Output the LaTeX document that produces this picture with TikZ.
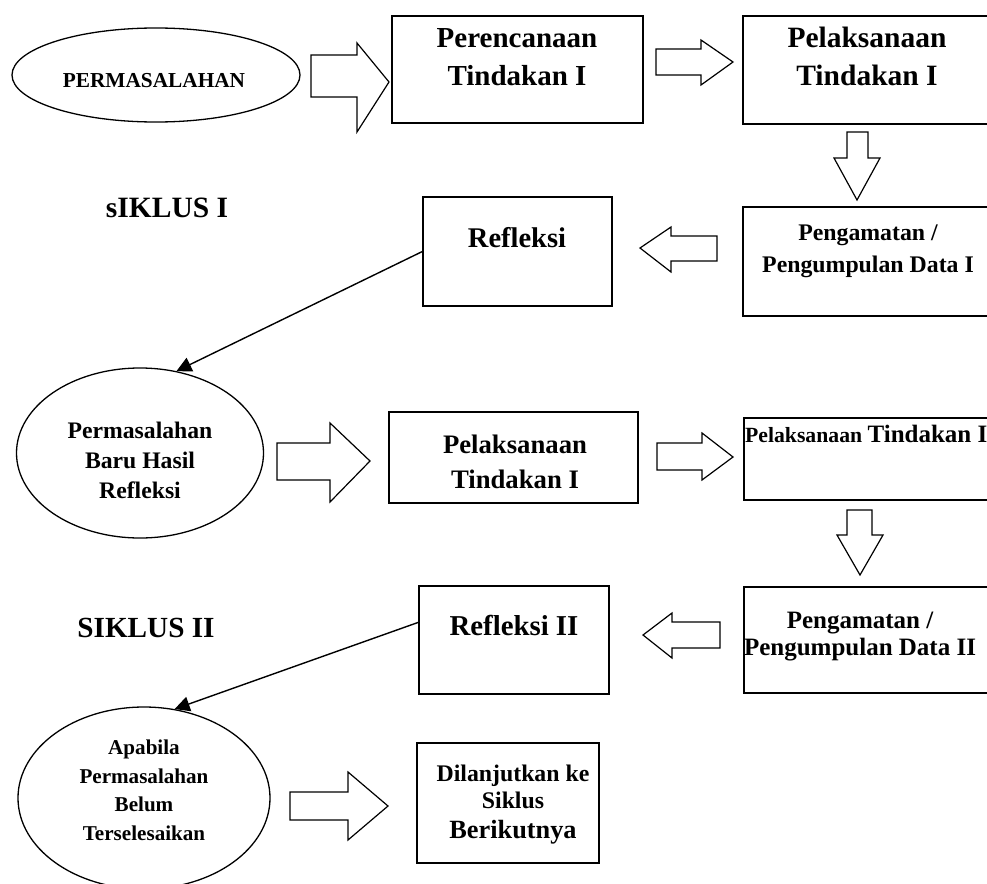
\documentclass[tikz,border=0pt]{standalone}
\usepackage{fontspec}
\setmainfont{Liberation Serif}
\usetikzlibrary{shapes.geometric,arrows.meta}
\newcommand\fsz[2]{\fontsize{#1pt}{#2pt}\selectfont}
\begin{document}
\begin{tikzpicture}[x=1pt,y=-1pt,
  box/.style={draw,line width=1.3pt,inner sep=0pt},
  oval/.style={draw,ellipse,line width=1.3pt,inner sep=0pt},
  txt/.style={inner sep=0pt,align=center,anchor=base},
  blk/.style={draw,line width=1.2pt,fill=white,line join=miter},
  conn/.style={line width=1.4pt,-{Triangle[length=15pt,width=15pt]}}]
\useasboundingbox (0,0) rectangle (987,883);
\clip (0,0) rectangle (987,883);
% ellipses
\node[oval,minimum width=288pt,minimum height=94pt] (E1) at (156,75) {};
\node[oval,minimum width=247pt,minimum height=170pt] (E2) at (140,453) {};
\node[oval,minimum width=252pt,minimum height=182pt] (E3) at (144,798) {};
% boxes
\node[box,minimum width=251pt,minimum height=107pt] (B1) at (517.5,69.5) {};
\node[box,minimum width=257pt,minimum height=108pt] (B2) at (871.5,70) {};
\node[box,minimum width=257pt,minimum height=109pt] (B3) at (871.5,261.5) {};
\node[box,minimum width=189pt,minimum height=109pt] (B4) at (517.5,251.5) {};
\node[box,minimum width=249pt,minimum height=91pt] (B5) at (513.5,457.5) {};
\node[box,minimum width=256pt,minimum height=82pt] (B6) at (872,459) {};
\node[box,minimum width=256pt,minimum height=106pt] (B7) at (872,640) {};
\node[box,minimum width=190pt,minimum height=108pt] (B8) at (514,640) {};
\node[box,minimum width=182pt,minimum height=120pt] (B9) at (508,803) {};
% texts (anchor base = baseline of the last line)
\node[txt,font=\bfseries\fsz{21.3}{26}] (T1) at (154,88) {PERMASALAHAN};
\node[txt,font=\bfseries\fsz{29}{38}] (T2) at (517,85) {Perencanaan\\Tindakan I};
\node[txt,font=\bfseries\fsz{29.5}{38}] (T3) at (867,85) {Pelaksanaan\\Tindakan I};
\node[txt,font=\bfseries\fsz{23.8}{32}] (T4) at (868,272) {Pengamatan /\\Pengumpulan Data I};
\node[txt,font=\bfseries\fsz{28.5}{34}] (T5) at (517,247) {Refleksi};
\node[txt,font=\bfseries\fsz{29.5}{34}] (T6) at (167,217) {sIKLUS I};
\node[txt,font=\bfseries\fsz{23.7}{30}] (T7) at (140,498) {Permasalahan\\Baru Hasil\\Refleksi};
\node[txt,font=\bfseries\fsz{26.7}{35}] (T8) at (515,488) {Pelaksanaan\\Tindakan I};
\node[txt,anchor=base west,font=\bfseries\fsz{21.7}{26}] (T9) at (745,442) {Pelaksanaan {\fsz{25}{30}Tindakan II}};
\node[txt,font=\bfseries\fsz{25}{27}] (T10) at (860,655) {Pengamatan /\\Pengumpulan Data II};
\node[txt,font=\bfseries\fsz{28.8}{34}] (T11) at (514,635) {Refleksi II};
\node[txt,font=\bfseries\fsz{29.2}{34}] (T12) at (146,637) {SIKLUS II};
\node[txt,font=\bfseries\fsz{21.1}{28.5}] (T13) at (144,840) {Apabila\\Permasalahan\\Belum\\Terselesaikan};
\node[txt,font=\bfseries\fsz{23.8}{26.5}] (T14) at (513,808) {Dilanjutkan ke\\Siklus};
\node[txt,font=\bfseries\fsz{26.3}{30}] (T15) at (513,838) {Berikutnya};
% block arrows
\draw[blk] (311,55) -- (357,55) -- (357,43) -- (389,82) -- (357,132) -- (357,97) -- (311,97) -- cycle;
\draw[blk] (656,49) -- (701,49) -- (701,40) -- (733,62) -- (701,85) -- (701,75) -- (656,75) -- cycle;
\draw[blk] (847,132) -- (868,132) -- (868,158) -- (880,158) -- (857,200) -- (834,158) -- (847,158) -- cycle;
\draw[blk] (717,236) -- (671,236) -- (671,227) -- (640,248) -- (671,272) -- (671,261) -- (717,261) -- cycle;
\draw[blk] (277,443) -- (330,443) -- (330,423) -- (370,461) -- (330,502) -- (330,480) -- (277,480) -- cycle;
\draw[blk] (657,443) -- (702,443) -- (702,433) -- (733,457) -- (702,480) -- (702,470) -- (657,470) -- cycle;
\draw[blk] (847,510) -- (872,510) -- (872,535) -- (883,535) -- (860,575) -- (837,535) -- (847,535) -- cycle;
\draw[blk] (720,622) -- (672,622) -- (672,613) -- (643,635) -- (672,658) -- (672,648) -- (720,648) -- cycle;
\draw[blk] (290,792) -- (348,792) -- (348,772) -- (388,806) -- (348,840) -- (348,820) -- (290,820) -- cycle;
% connectors
\coordinate (C2) at ([yshift=-37pt]B8.north west);
\draw[conn] (B4.west) -- (E2.66.8);
\draw[conn] (C2) -- (E3.71.3);
\end{tikzpicture}
\end{document}
